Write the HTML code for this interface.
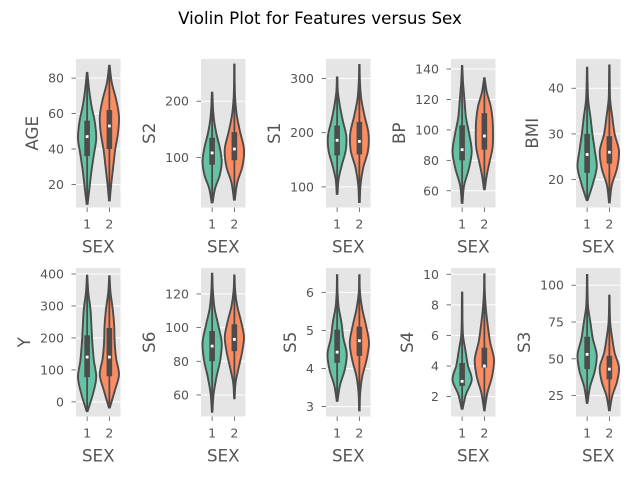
<!DOCTYPE html>
<html><head><meta charset="utf-8"><style>
html,body{margin:0;padding:0;background:#fff}
svg{display:block;font-family:"DejaVu Sans","Liberation Sans",sans-serif}
</style></head><body>
<svg id="chart" width="640" height="480" viewBox="0 0 640 480" xmlns="http://www.w3.org/2000/svg">
<text x="320" y="24" text-anchor="middle" font-size="16.7" fill="#000">Violin Plot for Features versus Sex</text>
</svg>
<script>
const features = ["AGE","S2","S1","BP","BMI","Y","S6","S5","S4","S3"];
const categories = ["1","2"];
const yLimits = [[7,90.8],[11,275],[62,336],[49,146.6],[13.9,46.4],[-45.8,418.7],[47.2,135.4],[2.74,6.64],[0.7,10.41],[10.8,111.7]];
const yTicks = [[20,40,60,80],[100,200],[100,200,300],[60,80,100,120,140],[20,30,40],[0,100,200,300,400],[60,80,100,120],[3,4,5,6],[2,4,6,8,10],[25,50,75,100]];
// [min, max] per violin (sex1, sex2)
const extents1 = [[9,83],[20,215],[87,302],[52,142],[15.5,44.5],[-29,395],[50,132],[3.15,6.45],[1.2,8.8],[20,107]];
const extents2 = [[11,87],[25,265],[72,325],[61,134],[15,45],[-18,393],[58,131],[2.9,6.45],[1.1,10],[15,93]];
// [q1, median, q3]
const boxes1 = [[36,47,56],[87,108,135],[158,186,213],[80,87,103],[21.5,25.5,30],[77,140,208],[80,89,98],[4.15,4.43,5.02],[2.7,3.0,4.2],[43,53,65]];
const boxes2 = [[40,53,62],[95,115,145],[160,184,220],[87,96,111],[23.5,26,29.5],[80,140,231],[86,93,102],[4.33,4.73,5.1],[3.9,4.0,5.2],[36,43,52]];
// relative densities at 9 evenly spaced values between min and max
const density1 = [
 [0.05,0.25,0.45,0.7,0.95,0.8,0.45,0.2,0.03],
 [0.05,0.3,0.8,1.0,0.8,0.45,0.2,0.08,0.03],
 [0.04,0.15,0.5,0.9,0.95,0.6,0.3,0.08,0.03],
 [0.04,0.2,0.7,1.0,0.75,0.4,0.25,0.1,0.02],
 [0.05,0.6,1.0,0.8,0.55,0.35,0.12,0.05,0.02],
 [0.05,0.6,0.95,0.7,0.55,0.45,0.35,0.12,0.02],
 [0.03,0.15,0.45,0.85,1.0,0.65,0.25,0.08,0.02],
 [0.04,0.3,0.8,1.0,0.65,0.45,0.15,0.04,0.02],
 [0.05,0.4,1.0,0.6,0.35,0.1,0.04,0.03,0.02],
 [0.04,0.3,0.8,1.0,0.6,0.35,0.1,0.04,0.02]];
const density2 = [
 [0.04,0.2,0.4,0.6,0.9,1.0,0.7,0.25,0.03],
 [0.05,0.3,0.85,1.0,0.6,0.25,0.08,0.03,0.02],
 [0.04,0.12,0.4,0.9,0.95,0.55,0.2,0.06,0.02],
 [0.04,0.25,0.55,0.85,0.9,0.85,0.65,0.25,0.03],
 [0.04,0.25,0.8,1.0,0.55,0.3,0.08,0.04,0.02],
 [0.05,0.55,1.0,0.7,0.55,0.5,0.35,0.12,0.02],
 [0.03,0.12,0.45,0.8,1.0,0.7,0.3,0.08,0.02],
 [0.03,0.08,0.3,0.75,1.0,0.7,0.3,0.06,0.02],
 [0.03,0.3,0.8,1.0,0.6,0.35,0.15,0.04,0.02],
 [0.04,0.3,0.8,1.0,0.55,0.3,0.1,0.04,0.02]];

const svg = document.getElementById('chart');
const NS = 'http://www.w3.org/2000/svg';
const LINE = '#4c4c4c';
const COLORS = ['#66c2a5','#fc8d62'];
const panelX = [76,201,326,451,576];
const panelY = [59,268];
const PW = 44.5, PH = 148.5, HALF = 9.6;
function mk(tag, attrs){const e=document.createElementNS(NS,tag);for(const k in attrs)e.setAttribute(k,attrs[k]);svg.appendChild(e);return e;}
function fmt(v){return String(v);}
function smoothPath(pts){
  let d='M'+pts[0][0].toFixed(2)+','+pts[0][1].toFixed(2);
  for(let i=0;i<pts.length-1;i++){
    const p0=pts[Math.max(i-1,0)],p1=pts[i],p2=pts[i+1],p3=pts[Math.min(i+2,pts.length-1)];
    const c1=[p1[0]+(p2[0]-p0[0])/6,p1[1]+(p2[1]-p0[1])/6];
    const c2=[p2[0]-(p3[0]-p1[0])/6,p2[1]-(p3[1]-p1[1])/6];
    d+=' C'+c1[0].toFixed(2)+','+c1[1].toFixed(2)+' '+c2[0].toFixed(2)+','+c2[1].toFixed(2)+' '+p2[0].toFixed(2)+','+p2[1].toFixed(2);
  }
  return d;
}
features.forEach((f,i)=>{
  const px = panelX[i%5], py = panelY[Math.floor(i/5)];
  const [lo,hi] = yLimits[i];
  const yS = v => py + PH - (v-lo)/(hi-lo)*PH;
  const xS = c => px + PW*(0.25+0.5*c);
  const bg = mk('rect',{x:px,y:py,width:PW,height:PH,fill:'#e5e5e5'});
  
  
  yTicks[i].forEach(t=>{
    const y=yS(t);
    const g=mk('line',{x1:px,x2:px+PW,y1:y,y2:y,stroke:'#fff','stroke-width':1});
    
    
    const tk=mk('line',{x1:px-4.5,x2:px,y1:y,y2:y,stroke:'#555','stroke-width':0.8});
    
    
    const tl=mk('text',{x:px-12,y:y+4.5,'text-anchor':'end','font-size':12.5,fill:'#555'});
    tl.textContent=fmt(t);
    
    
  });
  categories.forEach((c,ci)=>{
    const x=xS(ci);
    const tk=mk('line',{x1:x,x2:x,y1:py+PH,y2:py+PH+4.5,stroke:'#555','stroke-width':0.8});
    
    
    const tl=mk('text',{x:x,y:py+PH+21,'text-anchor':'middle','font-size':12.5,fill:'#555'});
    tl.textContent=c;
    
    
    const ext = ci===0?extents1[i]:extents2[i];
    const dens = ci===0?density1[i]:density2[i];
    const box = ci===0?boxes1[i]:boxes2[i];
    const n=dens.length;
    const right=[],left=[];
    for(let k=0;k<n;k++){
      const v=ext[0]+(ext[1]-ext[0])*k/(n-1);
      right.push([x+dens[k]*HALF,yS(v)]);
    }
    for(let k=n-1;k>=0;k--){
      const v=ext[0]+(ext[1]-ext[0])*k/(n-1);
      left.push([x-dens[k]*HALF,yS(v)]);
    }
    const d=smoothPath(right)+' L'+left[0][0].toFixed(2)+','+left[0][1].toFixed(2)+smoothPath(left).replace(/^M[^ ]+/,'')+' Z';
    const vp=mk('path',{d:d,fill:COLORS[ci],stroke:LINE,'stroke-width':1.9});
    
    
    const wh=mk('line',{x1:x,x2:x,y1:yS(ext[0]),y2:yS(ext[1]),stroke:LINE,'stroke-width':1.8});
    
    
    const bx=mk('rect',{x:x-2.8,y:yS(box[2]),width:5.6,height:yS(box[0])-yS(box[2]),fill:LINE});
    
    
    const md=mk('rect',{x:x-1.4,y:yS(box[1])-1.4,width:2.8,height:2.8,fill:'#fff'});
    
    
  });
  const xl=mk('text',{x:px+PW/2,y:py+PH+45,'text-anchor':'middle','font-size':16.7,fill:'#555'});
  xl.textContent='SEX';
  
  
  const maxLen = Math.max(...yTicks[i].map(t=>fmt(t).length));
  const lx = px-12-maxLen*8-16;
  const yl=mk('text',{x:lx,y:py+PH/2,'text-anchor':'middle','dominant-baseline':'central','font-size':16.7,fill:'#555',transform:'rotate(-90 '+lx+' '+(py+PH/2)+')'});
  yl.textContent=f;
  
  
});
</script>
</body></html>
